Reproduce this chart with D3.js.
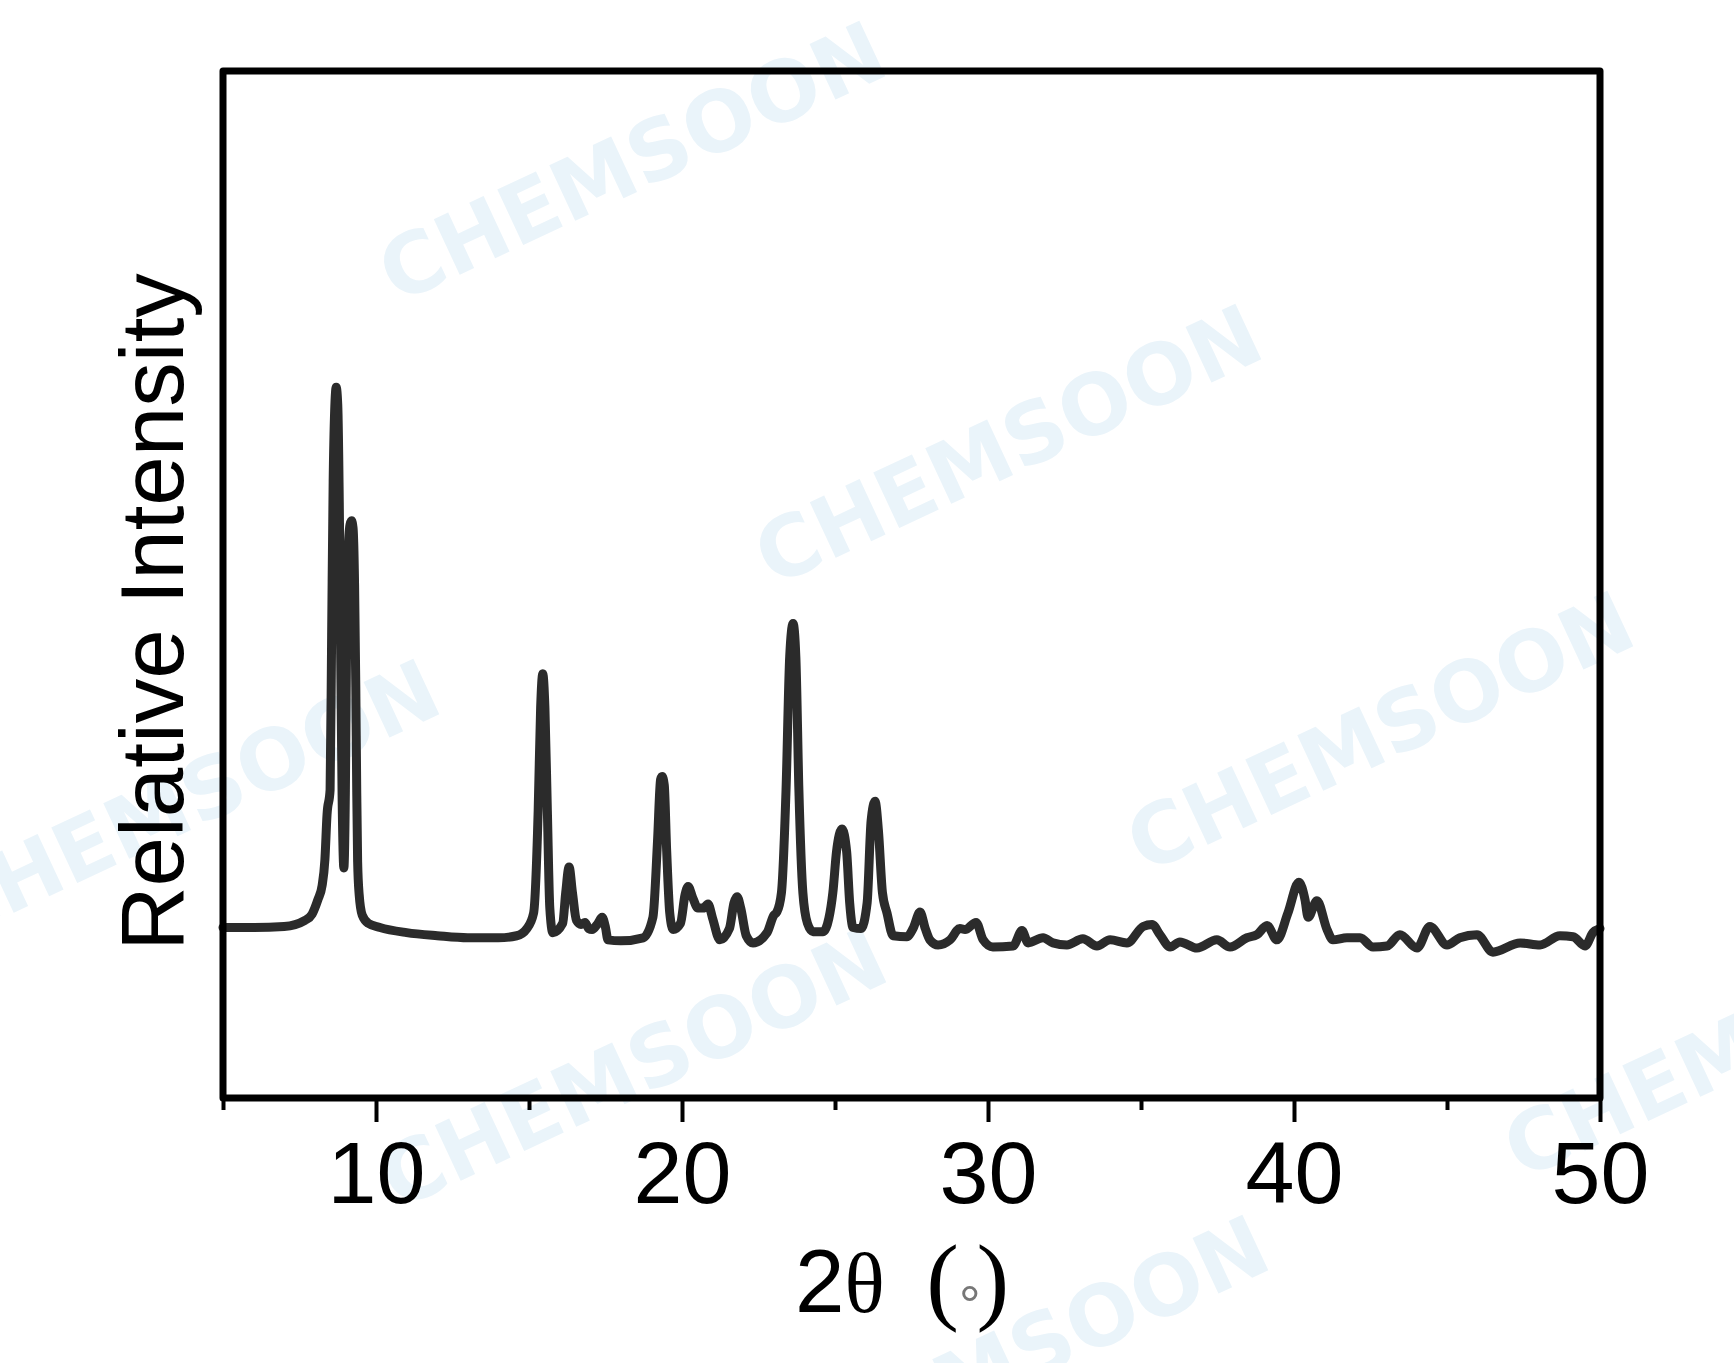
<!DOCTYPE html>
<html><head><meta charset="utf-8">
<script src="https://cdn.jsdelivr.net/npm/d3@7"></script>
<style>body{margin:0;background:#fff}</style>
</head><body>
<svg id="c" width="1734" height="1363"></svg>
<script>
const twoTheta = [5.00,6.00,7.00,7.68,7.91,8.10,8.24,8.33,8.40,8.50,8.55,8.60,8.65,8.70,8.75,8.80,8.84,8.89,8.95,9.00,9.04,9.09,9.15,9.20,9.25,9.30,9.34,9.37,9.40,9.45,9.55,9.75,10.13,11.0,12.0,13.0,14.0,14.6,14.93,15.15,15.30,15.38,15.45,15.52,15.60,15.68,15.78,16.10,16.20,16.31,16.42,16.55,16.70,16.83,16.95,17.06,17.25,17.39,17.50,17.58,18.0,18.73,19.05,19.20,19.30,19.35,19.42,19.50,19.60,19.71,19.95,20.10,20.20,20.35,20.52,20.70,20.85,21.00,21.24,21.55,21.70,21.80,21.92,22.10,22.32,22.78,23.00,23.10,23.25,23.40,23.52,23.63,23.72,23.82,23.95,24.10,24.28,24.61,24.80,24.93,25.05,25.23,25.38,25.48,25.59,25.85,26.05,26.18,26.31,26.42,26.55,26.70,26.90,27.35,27.55,27.78,27.95,28.10,28.37,28.76,29.08,29.25,29.61,29.84,30.16,30.82,31.11,31.31,31.80,32.12,32.58,33.10,33.56,33.99,34.54,35.07,35.36,35.62,35.95,36.27,36.83,37.48,37.91,38.46,38.79,39.12,39.44,39.80,40.16,40.36,40.46,40.75,41.08,41.27,41.73,42.16,42.58,43.04,43.46,44.02,44.44,45.00,45.42,45.98,46.50,47.39,48.04,48.69,49.12,49.51,49.77,50.00];
const intensity = [16.6,16.6,16.7,17.3,17.9,19.3,20.7,23.2,27.6,30.0,45.0,60.0,67.0,69.2,67.5,58.0,45.0,30.0,22.4,30.0,45.0,53.0,55.8,56.2,55.5,50.0,40.0,30.0,23.0,19.8,17.8,17.0,16.6,16.1,15.8,15.6,15.6,15.8,16.5,18.0,28.0,38.0,41.3,38.0,28.0,18.5,16.1,17.0,20.0,22.5,20.0,17.3,16.9,17.1,16.5,16.4,17.0,17.6,16.6,15.4,15.3,15.6,17.6,25.0,31.0,31.3,30.5,24.0,18.0,16.4,17.0,19.8,20.6,19.5,18.5,18.5,18.9,17.5,15.4,16.5,19.0,19.6,18.5,15.8,15.1,16.1,17.8,18.1,20.0,30.0,43.0,46.2,43.0,30.0,20.0,17.0,16.2,16.2,17.5,20.0,24.0,26.2,24.0,19.0,16.6,16.5,19.0,27.0,28.9,26.0,20.0,18.0,15.8,15.7,16.5,18.1,16.5,15.4,14.9,15.4,16.5,16.4,17.1,15.4,14.7,14.8,16.3,15.1,15.6,15.1,14.9,15.5,14.8,15.4,15.1,16.7,16.9,15.9,14.7,15.2,14.6,15.4,14.7,15.6,15.9,16.8,15.4,18.0,21.0,19.3,17.6,19.2,16.4,15.4,15.6,15.6,14.7,14.8,15.9,14.6,16.7,14.9,15.6,15.9,14.2,15.1,14.9,15.8,15.7,14.8,16.1,16.5];
const majorTicks = [10, 20, 30, 40, 50];
const minorTicks = [5, 15, 25, 35, 45];
const xTitle = ["2", "θ", " (", "°", ")"];
const yTitle = "Relative Intensity";
const watermark = "CHEMSOON";
const watermarkSpots = [[632,162],[1008,445],[1380,732],[186,800],[633,1068],[1015,1356],[1757,1038]];

const svg = d3.select("#c");
const L = 223, R = 1600, T = 71, B = 1098;
const x = d3.scaleLinear().domain([5, 50]).range([L, R]);
const y = d3.scaleLinear().domain([0, 100]).range([B, T]);

// watermark (behind everything)
svg.append("g").selectAll("text").data(watermarkSpots).join("text")
  .attr("transform", d => `translate(${d[0]},${d[1]}) rotate(-25)`)
  .attr("text-anchor", "middle").attr("dy", "0.35em")
  .attr("font-family", "'DejaVu Sans', sans-serif").attr("font-weight", "bold")
  .attr("font-size", 84).attr("fill", "#eaf4fa")
  .text(watermark);

// pattern line
const line = d3.line().x((d, i) => x(twoTheta[i])).y(d => y(d)).curve(d3.curveMonotoneX);
svg.append("path").datum(intensity)
  .attr("d", line).attr("fill", "none").attr("stroke", "#2b2b2b")
  .attr("stroke-width", 9).attr("stroke-linejoin", "round").attr("stroke-linecap", "round");

// minor ticks
const minorAxis = d3.axisBottom(x).tickValues(minorTicks).tickSize(12).tickFormat("");
const gMin = svg.append("g").attr("transform", `translate(0,${B})`).call(minorAxis);
gMin.select(".domain").remove();
gMin.selectAll("line").attr("stroke", "#000").attr("stroke-width", 4);

// major ticks + labels
const majorAxis = d3.axisBottom(x).tickValues(majorTicks).tickSize(24).tickPadding(19).tickFormat(d3.format("d"));
const gMaj = svg.append("g").attr("transform", `translate(0,${B})`).call(majorAxis);
gMaj.select(".domain").remove();
gMaj.selectAll("line").attr("stroke", "#000").attr("stroke-width", 4);
gMaj.selectAll("text").attr("font-family", "'Liberation Sans', Arial, sans-serif")
  .attr("font-size", 88).attr("fill", "#000");

// frame
svg.append("rect").attr("x", L).attr("y", T).attr("width", R - L).attr("height", B - T)
  .attr("fill", "none").attr("stroke", "#000").attr("stroke-width", 7).attr("stroke-linejoin", "round");

// y title
svg.append("text").attr("transform", `translate(183,612) rotate(-90)`)
  .attr("text-anchor", "middle").attr("font-family", "'Liberation Sans', Arial, sans-serif")
  .attr("font-size", 89).attr("fill", "#000").text(yTitle);

// x title
const xt = svg.append("text").attr("x", 795).attr("y", 1312).attr("text-anchor", "start")
  .attr("font-size", 89).attr("fill", "#000");
xt.append("tspan").attr("font-family", "'Liberation Sans', Arial, sans-serif").text(xTitle[0]);
xt.append("tspan").attr("font-family", "'Liberation Serif', serif").attr("font-size", 84).text(xTitle[1]);
xt.append("tspan").attr("font-family", "'Liberation Serif', serif").attr("font-size", 98).attr("dx", 17).text(xTitle[2]);
xt.append("tspan").attr("font-family", "'Liberation Sans', Arial, sans-serif").attr("font-size", 54)
  .attr("fill", "#777").attr("dx", 0).attr("dy", 12).text(xTitle[3]);
xt.append("tspan").attr("font-family", "'Liberation Serif', serif").attr("font-size", 98)
  .attr("dx", -4).attr("dy", -12).text(xTitle[4]);
</script>
</body></html>
